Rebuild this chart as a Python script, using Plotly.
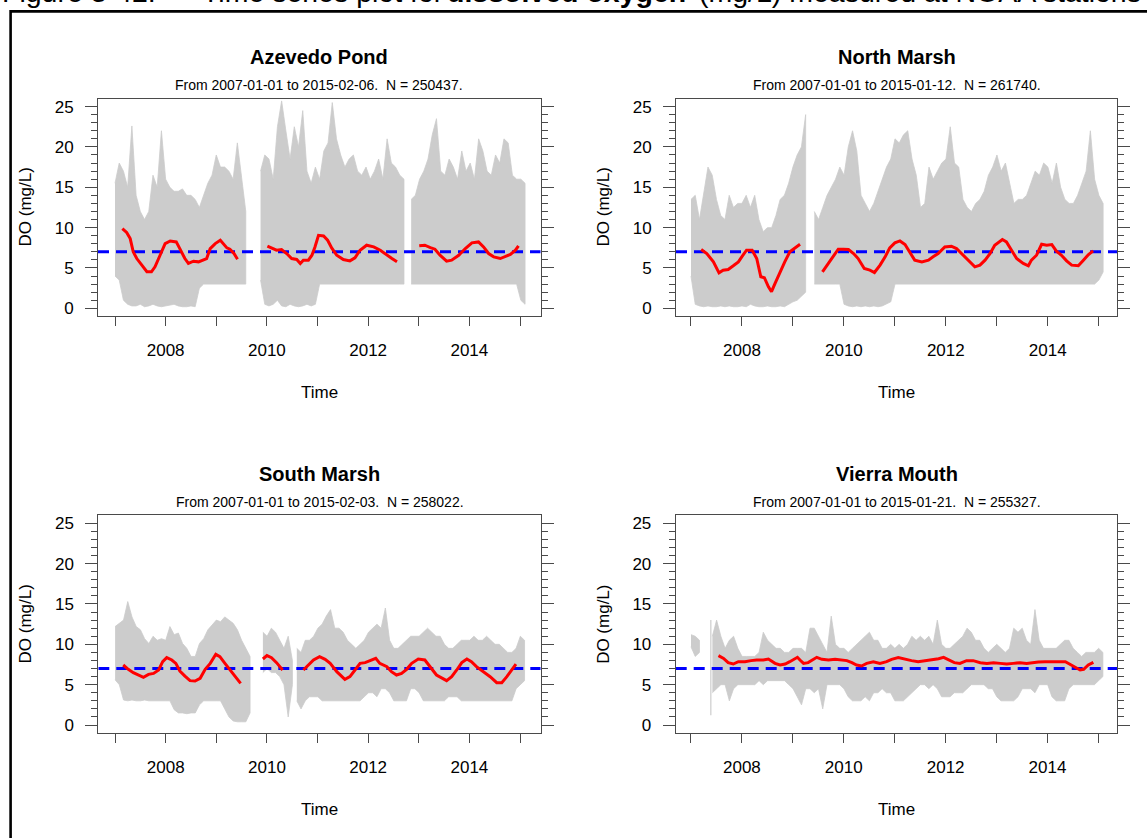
import plotly.graph_objects as go

W, H = 1147, 838
FONT = "Liberation Sans, Arial, sans-serif"

# ---------------- data ----------------
station_names = ["Azevedo Pond", "North Marsh", "South Marsh", "Vierra Mouth"]
station_subtitles = [
    "From 2007-01-01 to 2015-02-06.  N = 250437.",
    "From 2007-01-01 to 2015-01-12.  N = 261740.",
    "From 2007-01-01 to 2015-02-03.  N = 258022.",
    "From 2007-01-01 to 2015-01-21.  N = 255327.",
]
year_ticks = list(range(2007, 2016))
year_labels = ["" if y % 2 else str(y) for y in year_ticks]
do_ticks = [0, 5, 10, 15, 20, 25]
do_minor_ticks = list(range(0, 26))
do_range = [-1, 26]
do_threshold = 7.0

# monthly envelope (upper / lower) of the raw 6-min records, one list per data segment
az_seg_start = [2007.0, 2009.875, 2012.85]
az_upper = [
    [15.5, 18.0, 17.0, 15.0, 22.6, 14.0, 12.0, 11.0, 12.0, 16.5, 15.0, 22.0,
     16.0, 15.0, 14.5, 14.5, 14.8, 14.0, 14.0, 13.5, 12.5, 14.0, 15.5, 16.5,
     19.0, 17.5, 17.5, 17.0, 16.0, 20.5, 16.0, 12.0],
    [17.0, 19.0, 18.5, 16.0, 22.5, 25.7, 22.0, 18.5, 22.5, 20.0, 24.5, 17.0,
     15.5, 17.5, 16.0, 19.5, 20.5, 25.5, 21.0, 19.0, 17.5, 18.5, 19.0, 17.0,
     16.5, 17.5, 16.0, 17.0, 18.5, 16.0, 21.0, 18.0, 17.5, 16.5, 16.0],
    [13.5, 14.0, 16.0, 17.0, 18.5, 21.5, 23.5, 17.0, 16.5, 18.5, 17.5, 16.0,
     19.5, 17.0, 18.0, 16.0, 21.0, 19.5, 17.0, 16.5, 19.0, 18.0, 21.0, 20.5,
     16.5, 16.0, 16.0, 15.5],
]
az_lower = [
    [4.0, 3.5, 1.0, 0.5, 0.3, 0.3, 0.5, 0.2, 0.3, 0.5, 0.3, 0.2,
     0.3, 0.4, 0.5, 0.3, 0.2, 0.2, 0.3, 0.2, 2.5, 3.0, 3.0, 3.0,
     3.0, 3.0, 3.0, 3.0, 3.0, 3.0, 3.0, 3.0],
    [3.5, 0.5, 0.3, 0.5, 1.0, 0.3, 0.2, 0.5, 0.3, 0.2, 0.3, 0.5,
     0.3, 0.5, 3.0, 3.0, 3.0, 3.0, 3.0, 3.0, 3.0, 3.0, 3.0, 3.0,
     3.0, 3.0, 3.0, 3.0, 3.0, 3.0, 3.0, 3.0, 3.0, 3.0, 3.0],
    [3.0, 3.0, 3.0, 3.0, 3.0, 3.0, 3.0, 3.0, 3.0, 3.0, 3.0, 3.0,
     3.0, 3.0, 3.0, 3.0, 3.0, 3.0, 3.0, 3.0, 3.0, 3.0, 3.0, 3.0,
     3.0, 3.0, 1.0, 0.5],
]

nm_seg_start = [2007.0, 2009.42]
nm_upper = [
    [13.5, 14.0, 11.0, 14.0, 17.5, 16.5, 13.5, 11.5, 11.0, 14.0, 12.5, 13.0,
     13.0, 14.0, 12.5, 14.0, 11.0, 9.5, 10.0, 10.0, 11.5, 13.5, 14.0, 15.5,
     17.5, 19.0, 20.0, 24.0],
    [12.0, 11.0, 12.5, 14.0, 15.0, 16.0, 17.5,
     16.5, 20.0, 22.0, 19.5, 14.0, 13.0, 12.0, 13.0, 14.5, 16.0, 17.5, 18.5,
     21.0, 20.5, 21.5, 22.0, 18.5, 16.5, 12.5, 13.0, 17.5, 16.0, 17.0, 18.0,
     18.5, 22.5, 18.0, 17.5, 13.5, 12.5, 12.0, 13.0, 13.5, 14.5, 16.5, 17.5,
     19.0, 17.0, 18.0, 15.5, 13.0, 13.5, 13.5, 14.0, 15.5, 17.0, 16.5, 18.0,
     17.5, 15.5, 18.0, 15.0, 13.5, 13.0, 13.0, 14.0, 15.5, 17.0, 22.0, 16.0,
     14.0, 13.0],
]
nm_lower = [
    [4.0, 0.5, 0.3, 0.2, 0.3, 0.2, 0.2, 0.3, 0.2, 0.3, 0.2, 0.2,
     0.3, 0.2, 0.5, 0.3, 0.2, 0.2, 0.3, 0.2, 0.2, 0.3, 0.2, 0.5,
     0.8, 1.0, 1.5, 2.0],
    [3.0, 3.0, 3.0, 3.0, 3.0, 3.0, 3.0,
     0.5, 0.3, 0.2, 0.3, 0.2, 0.3, 0.2, 0.3, 0.2, 0.3, 0.5, 0.8,
     3.0, 3.0, 3.0, 3.0, 3.0, 3.0, 3.0, 3.0, 3.0, 3.0, 3.0, 3.0,
     3.0, 3.0, 3.0, 3.0, 3.0, 3.0, 3.0, 3.0, 3.0, 3.0, 3.0, 3.0,
     3.0, 3.0, 3.0, 3.0, 3.0, 3.0, 3.0, 3.0, 3.0, 3.0, 3.0, 3.0,
     3.0, 3.0, 3.0, 3.0, 3.0, 3.0, 3.0, 3.0, 3.0, 3.0, 3.0, 3.0,
     3.5, 4.5],
]

sm_seg_start = [2007.0, 2009.92, 2010.59]
sm_upper = [
    [12.2, 12.6, 13.0, 15.3, 13.4, 12.2, 11.8, 10.7, 10.1, 11.0, 10.5, 10.7,
     10.5, 12.2, 11.2, 11.4, 10.1, 9.5, 8.5, 8.5, 10.1, 10.7, 11.8, 12.4,
     13.0, 12.8, 13.4, 13.0, 12.6, 11.8, 10.5, 9.5, 8.5],
    [11.5, 11.0, 12.0, 11.5, 10.5, 9.5, 11.0, 8.0],
    [9.5, 9.0, 10.5, 10.5, 11.0,
     12.0, 12.5, 13.5, 14.3, 12.0, 12.0, 11.5, 10.5, 10.0, 9.5, 10.0, 10.5,
     11.5, 12.0, 12.5, 12.0, 14.5, 10.5, 9.5, 9.5, 10.0, 10.5, 11.0, 11.0,
     11.0, 11.5, 12.0, 11.5, 11.0, 11.0, 10.0, 9.5, 9.5, 10.0, 10.5, 10.5,
     10.5, 11.0, 10.5, 10.5, 11.0, 10.5, 10.0, 10.0, 9.5, 9.0, 9.0, 9.5,
     11.0, 10.5],
]
sm_lower = [
    [5.6, 5.0, 3.1, 3.0, 3.1, 3.0, 3.0, 3.1, 3.0, 3.0, 3.0, 3.0,
     3.0, 3.0, 1.9, 1.5, 1.5, 1.4, 1.5, 1.5, 2.5, 3.0, 3.0, 3.0,
     3.0, 3.0, 2.0, 1.0, 0.5, 0.4, 0.4, 0.4, 1.5],
    [6.5, 7.0, 6.5, 6.5, 6.0, 5.0, 1.0, 5.0],
    [3.0, 2.0, 3.0, 3.5, 3.5, 3.5, 3.0, 3.0, 3.0, 3.0,
     3.0, 3.0, 3.0, 3.0, 3.0, 3.0, 3.5, 4.0, 4.0, 3.5,
     4.5, 4.5, 4.0, 3.0, 3.0, 3.0, 3.0, 4.5, 4.5, 4.0,
     3.0, 3.0, 3.0, 3.0, 3.0, 3.0, 3.5, 3.5, 3.5, 3.0,
     3.0, 3.0, 3.0, 3.0, 3.0, 3.0, 3.0, 3.0, 3.0, 3.0,
     3.0, 3.0, 4.5, 5.0, 5.5],
]

vm_seg_start = [2007.0, 2007.42]
vm_upper = [
    [11.2, 11.0, 10.5],
    [11.0, 13.0, 11.0, 9.5, 10.5, 11.0, 9.5,
     8.5, 8.5, 8.5, 8.5, 9.0, 11.5, 10.5, 10.0, 9.5, 9.5, 9.0, 9.0,
     9.5, 9.5, 9.5, 9.0, 12.0, 12.0, 11.0, 10.0, 9.0, 13.5, 10.0, 9.5,
     9.5, 9.0, 9.5, 10.0, 10.5, 11.0, 11.5, 10.5, 10.5, 9.5, 9.5, 10.0,
     9.5, 10.0, 9.5, 10.0, 11.0, 10.5, 11.0, 10.5, 11.0, 10.0, 13.0, 10.0,
     9.5, 9.5, 10.0, 10.5, 11.0, 12.0, 11.5, 10.5, 10.5, 9.5, 9.0, 9.5,
     10.0, 9.5, 9.0, 9.5, 12.0, 11.5, 12.0, 10.5, 10.0, 14.3, 10.5, 9.5,
     9.5, 9.5, 9.5, 10.0, 10.5, 10.5, 9.5, 9.0, 8.5, 9.0, 9.0, 9.0,
     9.5, 9.0],
]
vm_lower = [
    [9.7, 8.5, 9.0],
    [4.0, 4.5, 5.0, 5.0, 3.0, 4.5, 5.0,
     5.0, 5.0, 5.0, 5.0, 5.5, 5.0, 5.5, 5.5, 5.5, 5.5, 5.5, 5.0,
     4.5, 3.5, 2.5, 4.5, 4.5, 4.0, 4.5, 2.0, 5.0, 5.0, 5.0, 5.0,
     4.5, 3.5, 3.0, 3.0, 3.0, 3.5, 3.0, 4.0, 4.0, 4.5, 4.0, 4.0,
     3.0, 3.0, 3.0, 3.5, 4.0, 4.5, 5.0, 5.0, 4.5, 5.0, 4.5, 3.5,
     3.5, 3.5, 4.0, 4.0, 4.0, 4.5, 5.0, 5.0, 5.0, 5.0, 4.5, 4.5,
     3.5, 3.0, 3.0, 3.0, 3.0, 3.5, 4.5, 4.5, 4.5, 4.0, 5.0, 5.0,
     5.0, 3.5, 3.0, 3.0, 3.0, 4.5, 5.0, 5.0, 5.0, 5.0, 5.0, 5.0,
     5.5, 6.0],
]
vm_spike_t = [2007.39]
vm_spike_lo = [1.2]
vm_spike_hi = [13.0]

# smoothed (moving-average) DO, None marks a gap
az_smooth_t = [2007.145, 2007.23, 2007.30, 2007.36, 2007.43, 2007.53, 2007.63, 2007.72, 2007.79,
               2007.89, 2007.99, 2008.09, 2008.21, 2008.28, 2008.38, 2008.45, 2008.55, 2008.65,
               2008.75, 2008.81, 2008.88, 2008.98, 2009.08, 2009.14, 2009.21, 2009.27, 2009.35,
               2009.42, None,
               2010.01, 2010.10, 2010.19, 2010.29, 2010.39, 2010.49, 2010.59, 2010.66, 2010.72,
               2010.82, 2010.89, 2010.95, 2011.02, 2011.12, 2011.20, 2011.28, 2011.38, 2011.51,
               2011.64, 2011.74, 2011.84, 2011.97, 2012.11, 2012.24, 2012.37, 2012.47, 2012.57,
               None,
               2013.01, 2013.12, 2013.23, 2013.32, 2013.42, 2013.55, 2013.65, 2013.79, 2013.92,
               2014.05, 2014.18, 2014.28, 2014.38, 2014.48, 2014.61, 2014.71, 2014.81, 2014.91,
               2014.97]
az_smooth_v = [9.88, 9.4, 8.64, 7.0, 6.17, 5.35, 4.53, 4.53, 5.14,
               6.58, 8.02, 8.35, 8.23, 7.4, 6.17, 5.56, 5.84, 5.76,
               5.97, 6.17, 7.4, 8.02, 8.44, 8.02, 7.49, 7.33, 6.79,
               6.09, None,
               7.7, 7.41, 7.2, 7.28, 6.79, 6.17, 6.05, 5.56, 5.97,
               5.97, 6.58, 7.61, 9.05, 8.97, 8.44, 7.49, 6.58, 6.05,
               5.88, 6.26, 7.2, 7.82, 7.61, 7.2, 6.58, 6.17, 5.76,
               None,
               7.74, 7.82, 7.53, 7.33, 6.58, 5.84, 5.97, 6.58, 7.41,
               8.11, 8.23, 7.61, 6.79, 6.38, 6.17, 6.38, 6.67, 7.2,
               7.74]

nm_smooth_t = [2007.20, 2007.31, 2007.44, 2007.55, 2007.63, 2007.73, 2007.83, 2007.93, 2008.01,
               2008.09, 2008.20, 2008.29, 2008.37, 2008.44, 2008.52, 2008.58, 2008.65, 2008.75,
               2008.84, 2008.94, 2009.04, 2009.14, None,
               2009.58, 2009.69, 2009.79, 2009.89, 2009.99, 2010.09, 2010.19, 2010.28, 2010.40,
               2010.51, 2010.60, 2010.71, 2010.81, 2010.90, 2011.00, 2011.10, 2011.20, 2011.30,
               2011.39, 2011.53, 2011.66, 2011.75, 2011.85, 2011.98, 2012.11, 2012.21, 2012.31,
               2012.44, 2012.57, 2012.67, 2012.77, 2012.87, 2012.96, 2013.11, 2013.19, 2013.29,
               2013.39, 2013.52, 2013.62, 2013.68, 2013.78, 2013.88, 2013.98, 2014.08, 2014.17,
               2014.27, 2014.37, 2014.47, 2014.60, 2014.70, 2014.80, 2014.89]
nm_smooth_v = [7.28, 6.79, 5.76, 4.40, 4.73, 4.81, 5.27, 5.76, 6.5,
               7.2, 7.2, 6.17, 3.91, 3.79, 2.67, 2.06, 3.09, 4.53,
               5.76, 7.0, 7.49, 7.94, None,
               4.53, 5.56, 6.5, 7.33, 7.33, 7.28, 6.79, 6.17, 4.94,
               4.73, 4.44, 5.35, 6.38, 7.49, 8.11, 8.35, 7.9, 6.79,
               5.97, 5.76, 5.97, 6.38, 6.79, 7.61, 7.7, 7.41, 6.79,
               5.88, 5.14, 5.35, 5.97, 6.79, 7.82, 8.52, 8.23, 7.2,
               6.17, 5.56, 5.27, 5.97, 6.58, 7.94, 7.82, 7.9, 7.08,
               6.58, 5.88, 5.35, 5.27, 5.97, 6.67, 7.12]

sm_smooth_t = [2007.16, 2007.26, 2007.36, 2007.46, 2007.56, 2007.66, 2007.76, 2007.86, 2007.94,
               2008.02, 2008.12, 2008.20, 2008.28, 2008.38, 2008.48, 2008.58, 2008.68, 2008.78,
               2008.88, 2008.99, 2009.07, 2009.17, 2009.27, 2009.37, 2009.48, None,
               2009.92, 2010.00, 2010.09, 2010.19, 2010.31, None,
               2010.72, 2010.82, 2010.92, 2011.04, 2011.15, 2011.25, 2011.38, 2011.54, 2011.64,
               2011.74, 2011.84, 2011.94, 2012.04, 2012.15, 2012.23, 2012.37, 2012.46, 2012.56,
               2012.66, 2012.76, 2012.86, 2012.99, 2013.12, 2013.22, 2013.35, 2013.55, 2013.65,
               2013.75, 2013.85, 2013.95, 2014.04, 2014.14, 2014.27, 2014.41, 2014.54, 2014.64,
               2014.74, 2014.84, 2014.92]
sm_smooth_v = [7.44, 6.9, 6.49, 6.2, 5.91, 6.28, 6.4, 6.82, 7.85,
               8.35, 8.06, 7.64, 6.69, 6.07, 5.5, 5.45, 5.79, 6.9,
               7.64, 8.76, 8.47, 7.64, 6.82, 5.99, 5.17, None,
               8.18, 8.6, 8.35, 7.73, 6.82, None,
               6.82, 7.44, 8.06, 8.47, 8.14, 7.64, 6.61, 5.66, 5.99,
               6.82, 7.64, 7.73, 7.98, 8.26, 7.64, 7.23, 6.61, 6.2,
               6.4, 6.9, 7.64, 8.18, 8.06, 7.23, 6.2, 5.5, 5.99,
               6.82, 7.73, 8.18, 7.85, 7.23, 6.61, 5.99, 5.25, 5.25,
               5.99, 6.82, 7.56]

vm_smooth_t = [2007.54, 2007.64, 2007.73, 2007.83, 2007.93, 2008.06, 2008.18, 2008.29, 2008.42,
               2008.52, 2008.58, 2008.65, 2008.75, 2008.85, 2008.94, 2009.01, 2009.09, 2009.14,
               2009.21, 2009.30, 2009.40, 2009.47, 2009.57, 2009.70, 2009.83, 2009.93, 2010.06,
               2010.16, 2010.25, 2010.35, 2010.45, 2010.58, 2010.71, 2010.84, 2010.94, 2011.07,
               2011.20, 2011.33, 2011.46, 2011.60, 2011.73, 2011.86, 2011.96, 2012.05, 2012.17,
               2012.28, 2012.41, 2012.54, 2012.68, 2012.81, 2012.94, 2013.07, 2013.20, 2013.33,
               2013.46, 2013.59, 2013.69, 2013.82, 2013.95, 2014.08, 2014.21, 2014.35, 2014.44,
               2014.54, 2014.64, 2014.71, 2014.80, 2014.90]
vm_smooth_v = [8.6, 8.26, 7.73, 7.56, 7.85, 7.85, 7.98, 8.06, 8.06,
               8.18, 7.93, 7.64, 7.44, 7.56, 7.85, 8.14, 8.39, 8.06,
               7.64, 7.73, 8.06, 8.39, 8.14, 8.06, 8.14, 8.06, 7.98,
               7.73, 7.44, 7.31, 7.64, 7.85, 7.64, 7.85, 8.14, 8.35,
               8.14, 7.98, 7.85, 7.98, 8.06, 8.22, 8.39, 8.14, 7.73,
               7.64, 7.98, 7.98, 7.73, 7.64, 7.73, 7.64, 7.56, 7.64,
               7.73, 7.64, 7.73, 7.81, 7.85, 7.81, 7.85, 7.85, 7.56,
               7.15, 6.82, 6.9, 7.44, 7.77]

# ---------------- layout geometry (pixels) ----------------
panel_boxes = [  # left, top, right, bottom
    (98.0, 98.5, 540.7, 316.4),
    (676.0, 98.5, 1117.3, 316.4),
    (98.3, 515.2, 540.7, 733.1),
    (675.7, 515.2, 1117.3, 733.1),
]
x_ranges = [
    [2006.664, 2015.409],
    [2006.706, 2015.365],
    [2006.668, 2015.409],
    [2006.700, 2015.370],
]


def px(x):
    return x / W


def py(y):
    return 1 - y / H


panels = [
    (az_seg_start, az_upper, az_lower, az_smooth_t, az_smooth_v, [], [], []),
    (nm_seg_start, nm_upper, nm_lower, nm_smooth_t, nm_smooth_v, [], [], []),
    (sm_seg_start, sm_upper, sm_lower, sm_smooth_t, sm_smooth_v, [], [], []),
    (vm_seg_start, vm_upper, vm_lower, vm_smooth_t, vm_smooth_v,
     vm_spike_t, vm_spike_lo, vm_spike_hi),
]

GRAY = "#CCCCCC"
AXC = "#4a4a4a"

fig = go.Figure()
layout = dict(
    width=W, height=H, template="none",
    margin=dict(l=0, r=0, t=0, b=0, pad=0, autoexpand=False),
    paper_bgcolor="white", plot_bgcolor="white",
    showlegend=False,
    font=dict(family=FONT, color="black"),
)
annotations = []

for i, (starts, ups, los, st, sv, sp_t, sp_lo, sp_hi) in enumerate(panels):
    n = "" if i == 0 else str(i + 1)
    xa, ya = "x" + n, "y" + n
    left, top, right, bottom = panel_boxes[i]

    # gray envelope polygons
    gx, gy = [], []
    for t0, up, lo in zip(starts, ups, los):
        t = [t0 + k / 12 for k in range(len(up))]
        gx += t + t[::-1] + [None]
        gy += up + lo[::-1] + [None]
    fig.add_trace(go.Scatter(x=gx, y=gy, mode="lines", fill="toself",
                             fillcolor=GRAY, line=dict(color=GRAY, width=0.8),
                             xaxis=xa, yaxis=ya, hoverinfo="skip"))
    if sp_t:
        sx, sy = [], []
        for t, lo, hi in zip(sp_t, sp_lo, sp_hi):
            sx += [t, t, None]
            sy += [lo, hi, None]
        fig.add_trace(go.Scatter(x=sx, y=sy, mode="lines",
                                 line=dict(color=GRAY, width=1.2),
                                 xaxis=xa, yaxis=ya, hoverinfo="skip"))
    # reference line
    fig.add_trace(go.Scatter(x=x_ranges[i], y=[do_threshold, do_threshold],
                             mode="lines",
                             line=dict(color="#0000FF", width=3, dash="11px,7px"),
                             xaxis=xa, yaxis=ya, hoverinfo="skip"))
    # smoothed
    fig.add_trace(go.Scatter(x=st, y=sv, mode="lines",
                             line=dict(color="#FF0000", width=3),
                             connectgaps=False,
                             xaxis=xa, yaxis=ya, hoverinfo="skip"))

    layout["xaxis" + n] = dict(
        domain=[px(left), px(right)], range=x_ranges[i], anchor=ya,
        tickmode="array", tickvals=year_ticks, ticktext=year_labels,
        ticks="outside", ticklen=9, tickwidth=1, tickcolor=AXC,
        showline=True, linecolor=AXC, linewidth=1, mirror=True,
        showgrid=False, zeroline=False, automargin=False,
        tickfont=dict(family=FONT, size=17, color="black"),
        ticklabelstandoff=9,
    )
    layout["yaxis" + n] = dict(
        domain=[py(bottom), py(top)], range=do_range, anchor=xa,
        tickmode="array", tickvals=do_ticks,
        ticks="outside", ticklen=12, tickwidth=1, tickcolor=AXC,
        minor=dict(tickmode="array", tickvals=do_minor_ticks, ticks="outside",
                   ticklen=6, tickwidth=1, tickcolor=AXC, showgrid=False),
        showline=True, linecolor=AXC, linewidth=1, mirror="ticks",
        showgrid=False, zeroline=False, automargin=False,
        tickfont=dict(family=FONT, size=17, color="black"),
        ticklabelstandoff=8,
    )

    cx = px((left + right) / 2)
    annotations += [
        dict(text="<b>" + station_names[i] + "</b>", x=cx, y=py(top - 41.5),
             xref="paper", yref="paper", xanchor="center", yanchor="middle",
             showarrow=False, font=dict(family=FONT, size=20, color="black")),
        dict(text=station_subtitles[i], x=cx, y=py(top - 13.5),
             xref="paper", yref="paper", xanchor="center", yanchor="middle",
             showarrow=False, font=dict(family=FONT, size=14, color="black")),
        dict(text="Time", x=cx, y=py(bottom + 76.5),
             xref="paper", yref="paper", xanchor="center", yanchor="middle",
             showarrow=False, font=dict(family=FONT, size=17, color="black")),
        dict(text="DO (mg/L)", x=px(left - 73), y=py((top + bottom) / 2),
             textangle=-90,
             xref="paper", yref="paper", xanchor="center", yanchor="middle",
             showarrow=False, font=dict(family=FONT, size=17, color="black")),
    ]

# figure caption (cut off at top of page, as in the source document)
cap_parts = [
    (0, "Figure 3-42."),
    (200, "Time series plot for"),
    (445, "<b>dissolved oxygen</b>"),
    (697, "(mg/L) measured at NOAA stations"),
]
for x0, txt in cap_parts:
    annotations.append(dict(text=txt, x=px(x0), y=py(10.0), xref="paper", yref="paper",
                            xanchor="left", yanchor="bottom", showarrow=False,
                            font=dict(family=FONT, size=28.5, color="black")))

layout["annotations"] = annotations
layout["shapes"] = [
    dict(type="path", xref="paper", yref="paper",
         path=f"M {px(10.6)},{py(H + 5)} L {px(10.6)},{py(11.4)} L {px(W + 5)},{py(11.4)}",
         line=dict(color="black", width=2.6)),
]
fig.update_layout(**layout)
fig.write_html(
    "out.html",
    config={"displayModeBar": False},
    post_script="document.body.style.margin='0px';document.body.style.overflow='hidden';",
)
